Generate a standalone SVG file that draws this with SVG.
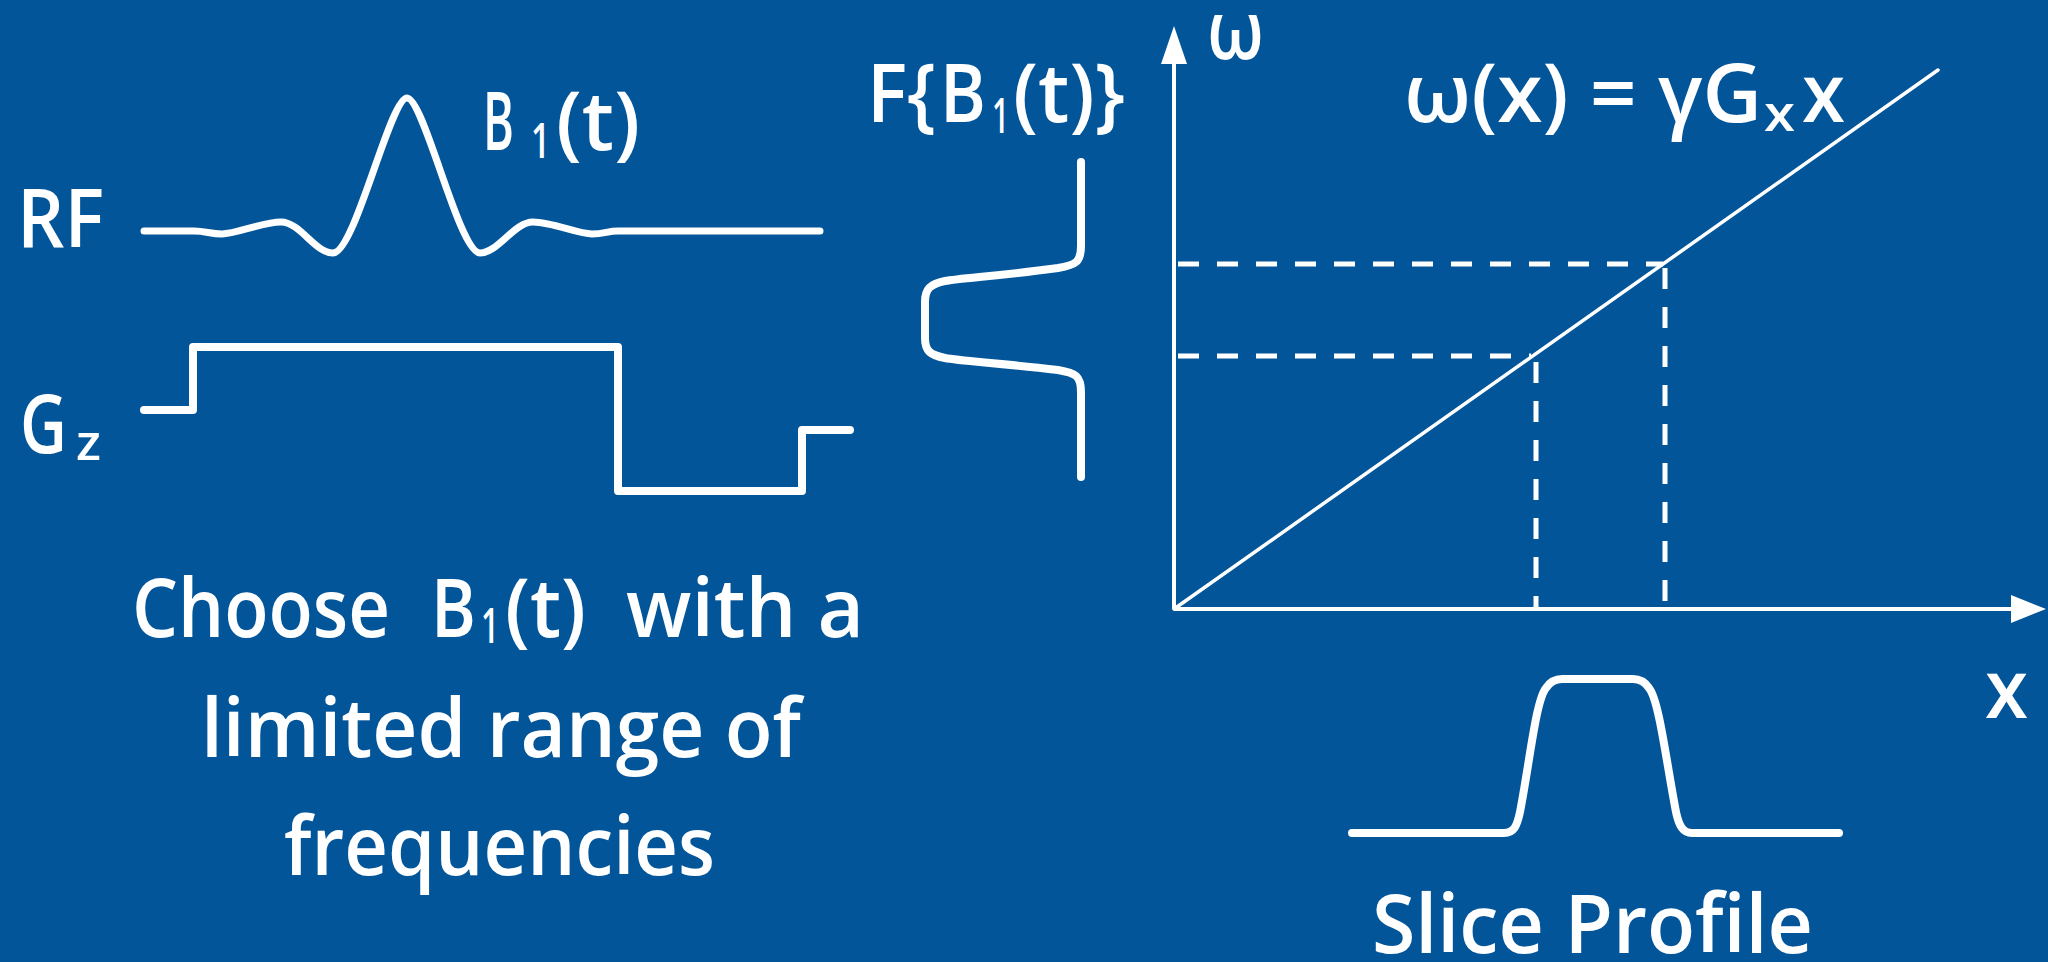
<svg xmlns="http://www.w3.org/2000/svg" width="2048" height="962" viewBox="0 0 2048 962">
<style>
.t{font-family:"Open Sans","DejaVu Sans",sans-serif;fill:#fff;font-size:82px;font-weight:600}
.s{font-size:48px}
.w{fill:none;stroke:#fff;stroke-linecap:round;stroke-linejoin:round}
.d{fill:none;stroke:#fff;stroke-width:5;stroke-dasharray:21 18}
</style>
<rect width="2048" height="962" fill="#03559a"/>
<g id="rf-label">
<text class="t" x="17" y="247" textLength="87" lengthAdjust="spacingAndGlyphs">RF</text>
</g>
<g id="rf-pulse">
<path class="w" stroke-width="7" d="M144,231 H194 C206,231 210,234 222,234 C236,234 262,222 281,222 C300,222 315,253 333,253 C355,253 390,98 407,98 C424,98 459,253 480,253 C498,253 514,222 533,222 C552,222 578,234 592,234 C604,234 608,231 618,231 H820"/>
<text class="t"><tspan x="483" y="150" textLength="31" lengthAdjust="spacingAndGlyphs">B</tspan><tspan class="s" x="531" y="158" textLength="19" lengthAdjust="spacingAndGlyphs">1</tspan><tspan x="556" y="150" textLength="84" lengthAdjust="spacingAndGlyphs">(t)</tspan></text>
</g>
<g id="gz">
<text class="t"><tspan x="20" y="453" textLength="47" lengthAdjust="spacingAndGlyphs">G</tspan><tspan class="s" x="76" y="460" textLength="25" lengthAdjust="spacingAndGlyphs">z</tspan></text>
<polyline class="w" stroke-width="8" stroke-linejoin="miter" points="144,410 193,410 193,347 618,347 618,491 802,491 802,430 850,430"/>
</g>
<g id="spectrum">
<text class="t"><tspan x="867" y="122" textLength="69" lengthAdjust="spacingAndGlyphs">F{</tspan><tspan x="940" y="122" textLength="46" lengthAdjust="spacingAndGlyphs">B</tspan><tspan class="s" x="992" y="133" textLength="17" lengthAdjust="spacingAndGlyphs">1</tspan><tspan x="1013" y="122" textLength="112" lengthAdjust="spacingAndGlyphs">(t)}</tspan></text>
<path class="w" stroke-width="8" d="M1081,162 V246 C1081,262 1076,265 1058,268 C1000,276 960,278 945,281 C930,284 925,289 925,302 V338 C925,351 930,355 945,358 C960,361 1000,363 1058,370 C1076,373 1081,376 1081,392 V477"/>
</g>
<g id="connectors">
<line x1="1174" y1="609" x2="1174" y2="60" stroke="#fff" stroke-width="4"/>
<polygon points="1174,26 1161,64 1187,64" fill="#fff"/>
<line x1="1174" y1="609" x2="2014" y2="609" stroke="#fff" stroke-width="4"/>
<polygon points="2046,609 2011,595 2011,623" fill="#fff"/>
<line x1="1174" y1="609" x2="1938" y2="70" stroke="#fff" stroke-width="3.5" stroke-linecap="round"/>
<line class="d" x1="1178" y1="264" x2="1663" y2="264"/>
<line class="d" x1="1178" y1="356" x2="1531" y2="356"/>
<line class="d" x1="1536" y1="362" x2="1536" y2="609" stroke-dasharray="22 17"/>
<line class="d" x1="1665" y1="268" x2="1665" y2="609" stroke-dasharray="22 17"/>
</g>
<g id="omega-axis-label">
<text class="t" x="1207" y="59" font-size="88" textLength="57" lengthAdjust="spacingAndGlyphs">ω</text>
</g>
<g id="equation">
<text class="t"><tspan x="1404" y="122" textLength="358" lengthAdjust="spacingAndGlyphs">ω(x) = γG</tspan><tspan class="s" x="1764" y="131" textLength="31" lengthAdjust="spacingAndGlyphs">x</tspan><tspan x="1802" y="122" textLength="43" lengthAdjust="spacingAndGlyphs">x</tspan></text>
</g>
<g id="x-axis-label">
<text class="t" x="1985" y="718" textLength="43" lengthAdjust="spacingAndGlyphs">x</text>
</g>
<g id="slice-profile">
<path class="w" stroke-width="8" d="M1352,833 H1504 C1514,833 1517,826 1520,812 C1530,760 1536,700 1546,688 C1550,682 1555,679 1562,679 H1633 C1640,679 1645,682 1649,688 C1659,700 1666,760 1676,812 C1679,826 1683,833 1692,833 H1839"/>
<text class="t" x="1372" y="953" textLength="441" lengthAdjust="spacingAndGlyphs">Slice Profile</text>
</g>
<g id="caption">
<text class="t"><tspan x="132" y="637" textLength="258" lengthAdjust="spacingAndGlyphs">Choose</tspan><tspan x="431" y="637" textLength="45" lengthAdjust="spacingAndGlyphs">B</tspan><tspan class="s" x="481" y="643" textLength="18" lengthAdjust="spacingAndGlyphs">1</tspan><tspan x="505" y="637" textLength="81" lengthAdjust="spacingAndGlyphs">(t)</tspan><tspan x="626" y="637" textLength="238" lengthAdjust="spacingAndGlyphs">with a</tspan></text>
<text class="t" x="201" y="757" textLength="600" lengthAdjust="spacingAndGlyphs">limited range of</text>
<text class="t" x="284" y="875" textLength="431" lengthAdjust="spacingAndGlyphs">frequencies</text>
</g>
</svg>
